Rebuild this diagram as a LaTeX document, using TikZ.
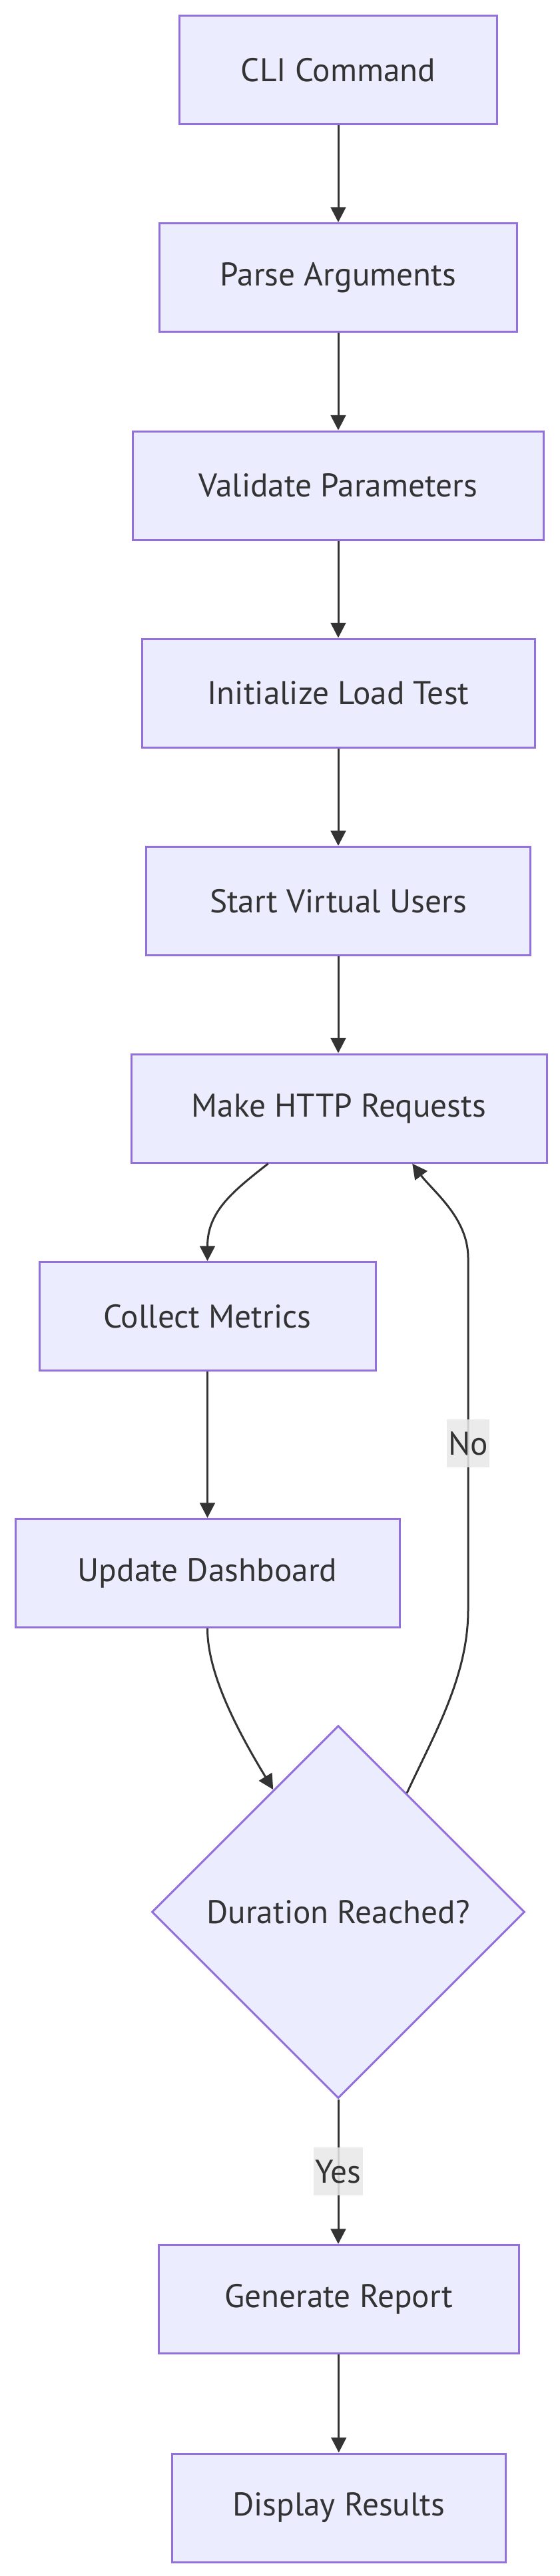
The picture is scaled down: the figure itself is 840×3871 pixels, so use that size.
\documentclass[tikz,border=0pt]{standalone}
\usepackage{fontspec}
\setmainfont{PT Sans}
\usetikzlibrary{arrows.meta,shapes.geometric}
\definecolor{nodefill}{HTML}{ECECFF}
\definecolor{nodeborder}{HTML}{9370DB}
\definecolor{ink}{HTML}{333333}
\definecolor{lblbg}{HTML}{E8E8E8}
\begin{document}
\begin{tikzpicture}[x=0.75pt,y=-0.75pt,
  box/.style={draw=nodeborder,fill=nodefill,line width=2.25pt,minimum height=122.25pt,inner sep=0pt,text=ink,font=\fontsize{37}{44}\selectfont},
  bw/.style={minimum width=#1*0.75pt},
  decision/.style={diamond,draw=nodeborder,fill=nodefill,line width=2.25pt,minimum width=420pt,minimum height=420pt,inner sep=0pt,text=ink,font=\fontsize{37}{44}\selectfont},
  conn/.style={draw=ink,line width=2.25pt,-{Triangle[length=17pt,width=17pt]}},
  lbl/.style={fill=lblbg,fill opacity=0.85,text opacity=1,text=ink,inner xsep=2pt,inner ysep=0pt,minimum height=54pt,font=\fontsize{37}{44}\selectfont}]
\useasboundingbox (0,0) rectangle (840,3871);
\node[box,bw=477] (cli) at (508,105) {CLI Command};
\node[box,bw=537] (parse) at (508,417) {Parse Arguments};
\node[box,bw=617] (valid) at (508,729.5) {Validate Parameters};
\node[box,bw=590] (init) at (508,1041.5) {Initialize Load Test};
\node[box,bw=577] (start) at (508,1354) {Start Virtual Users};
\node[box,bw=624] (http) at (509,1665.5) {Make HTTP Requests};
\node[box,bw=505] (collect) at (311.5,1978) {Collect Metrics};
\node[box,bw=577] (update) at (311.5,2364) {Update Dashboard};
\node[decision] (dec) at (508,2873) {Duration Reached?};
\node[box,bw=541] (gen) at (508.75,3455) {Generate Report};
\node[box,bw=501] (disp) at (508.75,3768.5) {Display Results};
\draw[conn] (cli) -- (parse);
\draw[conn] (parse) -- (valid);
\draw[conn] (valid) -- (init);
\draw[conn] (init) -- (start);
\draw[conn] (start.south) -- (start.south |- http.north);
\draw[conn] (http.218) .. controls (350,1790) and (311.5,1820) .. (collect.north);
\draw[conn] (collect) -- (update);
\draw[conn] (update.south) .. controls (311.5,2510) and (350,2590) .. (dec.118);
\draw[conn] (dec.60.5) .. controls (650,2610) and (703,2520) .. (703,2420)
  -- node[lbl,pos=0.474] {No} (703,1890)
  .. controls (703,1830) and (650,1790) .. (http.323);
\draw[conn] (dec.south) -- node[lbl,pos=0.5] {Yes} (dec.south |- gen.north);
\draw[conn] (gen.south) -- (gen.south |- disp.north);
\end{tikzpicture}
\end{document}
